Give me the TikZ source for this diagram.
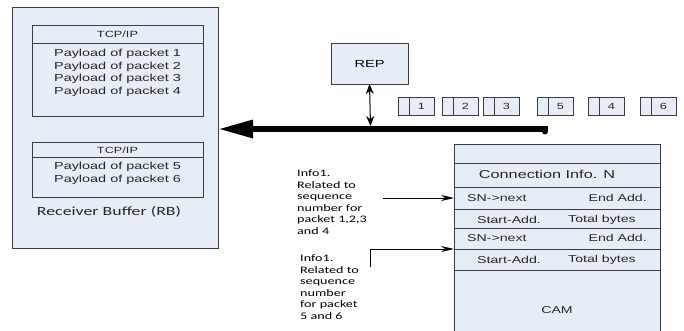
\documentclass[tikz,border=0pt]{standalone}
\usepackage{fontspec}
\setmainfont{Liberation Sans}[FakeStretch=1.42]
\newfontfamily\calfont{Carlito}[FakeStretch=1.42]
\usetikzlibrary{calc, arrows.meta, positioning}
\definecolor{boxfill}{RGB}{231,237,247}
\definecolor{edge}{RGB}{60,60,60}

\begin{document}
\begin{tikzpicture}[x=1bp, y=-1bp,
    box/.style={draw=edge, fill=boxfill, line width=0.9bp, inner sep=0pt, outer sep=0pt},
    txt/.style={inner sep=0pt, font=\fontsize{10}{12}\selectfont, text=black!85},
    info/.style={inner sep=0pt, align=left, anchor=west, font=\calfont\fontsize{10}{11.6}\selectfont},
    pkt/.style={box, minimum width=36bp, minimum height=18bp},
    bus/.style={line width=6bp, line cap=round, -{Triangle[length=35bp, width=17bp]}},
    arr/.style={line width=0.8bp, -{Stealth[length=13bp, width=6bp]}}
  ]
    \useasboundingbox (0,0) rectangle (684,330);

    % receiver buffer
    \node[box, minimum width=206bp, minimum height=241bp] (rb) at (115,127.5) {};
    \node[box, minimum width=171bp, minimum height=91bp] (tcp1) at (117.5,70.5) {};
    \draw[edge, line width=0.9bp] ($(tcp1.north west)+(0,18)$) -- ($(tcp1.north east)+(0,18)$);
    \node[txt, font=\fontsize{9}{11}\selectfont] (hdr1) at (117.5,34) {TCP/IP};
    \node[txt, align=center, font=\fontsize{10.2}{12.6}\selectfont] (pay1) at (117.5,73)
      {Payload of packet 1\\Payload of packet 2\\Payload of packet 3\\Payload of packet 4};
    \node[box, minimum width=171bp, minimum height=55bp] (tcp2) at (117.5,169.5) {};
    \draw[edge, line width=0.9bp] ($(tcp2.north west)+(0,15)$) -- ($(tcp2.north east)+(0,15)$);
    \node[txt, font=\fontsize{9}{11}\selectfont] (hdr2) at (117.5,150) {TCP/IP};
    \node[txt, align=center, font=\fontsize{10.2}{13.3}\selectfont] (pay2) at (117.5,173.3)
      {Payload of packet 5\\Payload of packet 6};
    \node[txt, font=\calfont\fontsize{12.6}{14}\selectfont] (rblabel) at (109,212) {Receiver Buffer (RB)};

    % REP and packets
    \node[box, minimum width=77bp, minimum height=41bp, font=\fontsize{10.3}{12}\selectfont] (rep) at (369.5,63.5) {REP};
    \foreach \lx/\n in {398/1, 442/2, 483/3, 537/5, 588/4, 640/6} {
      \node[pkt] (p\n) at (\lx+18,106) {};
      \draw[edge, line width=0.9bp] ($(p\n.north west)+(11,0)$) -- ($(p\n.south west)+(11,0)$);
      \node[txt, font=\fontsize{9}{11}\selectfont] (n\n) at (\lx+23.5,106) {\n};
    }

    % bus
    \coordinate (busend) at (545,129);
    \draw[bus] (545,131.5) -- (busend) -- (busend -| rb.east);
    \draw[line width=1bp, {Stealth[length=10bp, width=8bp]}-{Stealth[length=10bp, width=8bp]}]
      (rep.south) -- ($(rep.south |- busend)+(1,-3)$);

    % CAM
    \node[box, minimum width=206bp, minimum height=190bp] (cam) at (557,239) {};
    \foreach \ry in {163, 187, 209, 228, 249, 270}
      \draw[edge, line width=0.9bp] (cam.west |- 0,\ry) -- (cam.east |- 0,\ry);
    \node[txt, font=\fontsize{11.5}{13}\selectfont] (conn) at (547,174) {Connection Info. N};
    \node[txt, anchor=west] (sn1) at (467,198) {SN->next};
    \node[txt, anchor=east] (end1) at (647,198) {End Add.};
    \node[txt] (start1) at (509,219.5) {Start-Add.};
    \node[txt] (tot1) at (602,219.5) {Total bytes};
    \node[txt, anchor=west] (sn2) at (467,238) {SN->next};
    \node[txt, anchor=east] (end2) at (647,238) {End Add.};
    \node[txt] (start2) at (509,259.5) {Start-Add.};
    \node[txt] (tot2) at (602,259.5) {Total bytes};
    \node[txt] (camlabel) at (557,310) {CAM};

    % info notes
    \node[info] (info1) at (297,202) {Info1.\\Related to\\sequence\\number for\\packet 1,2,3\\and 4};
    \node[info] (info2) at (300,287) {Info1.\\Related to\\sequence\\number\\for packet\\5 and 6};
    \coordinate (a1) at (383,198);
    \coordinate (a2) at (370,267);
    \draw[arr] (a1) -- (a1 -| cam.west);
    \draw[arr] (a2) |- (cam.west |- 0,249);
  \end{tikzpicture}
\end{document}
